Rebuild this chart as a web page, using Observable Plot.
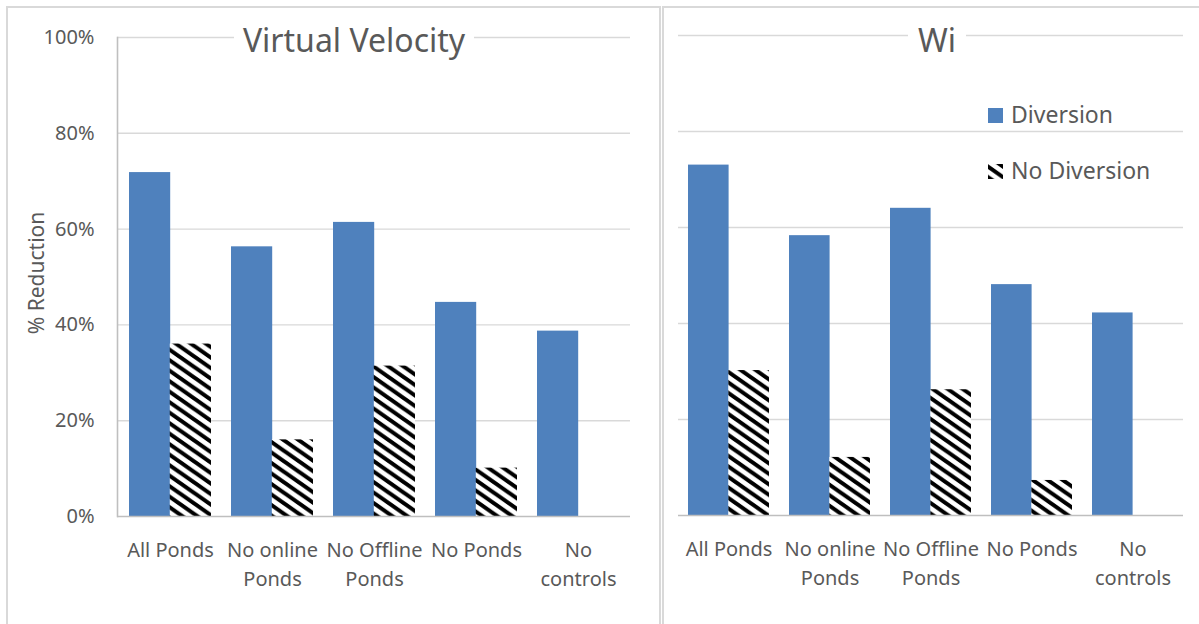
<!DOCTYPE html>
<html>
<head>
<meta charset="utf-8">
<script src="https://cdn.jsdelivr.net/npm/d3@7"></script>
<script src="https://cdn.jsdelivr.net/npm/@observablehq/plot@0.6"></script>
<style>
  html, body { margin: 0; padding: 0; background: #fff; }
  body { width: 1199px; height: 624px; position: relative; overflow: hidden; font-family: "Noto Sans", sans-serif; color: #595959; }
  .panel { position: absolute; box-sizing: border-box; border: 2px solid #d9d9d9; }
  .abs { position: absolute; left: 0; top: 0; }
  .title { position: absolute; background: #fff; font-size: 32px; line-height: 1; white-space: nowrap; text-align: center; color: #595959; }
  .ylabel { position: absolute; font-size: 21px; white-space: nowrap; transform: translate(-50%, -50%) rotate(-90deg); color: #595959; }
</style>
</head>
<body>
<svg width="0" height="0" style="position:absolute">
  <defs>
    <pattern id="hatch" patternUnits="userSpaceOnUse" width="15" height="10.5">
      <rect width="15" height="10.5" fill="#fff"></rect>
      <path d="M-15,-10.5L30,21M-15,0L15,21M0,-10.5L30,10.5" stroke="#000" stroke-width="4"></path>
    </pattern>
  </defs>
</svg>
<div class="panel" style="left:6px;top:6px;width:655px;height:640px"></div>
<div class="panel" style="left:662px;top:6px;width:600px;height:640px"></div>
<div id="left" class="abs"></div>
<div id="right" class="abs" style="left:662px"></div>
<div id="overlay"></div>
<script>
const categories = ["All Ponds", "No online Ponds", "No Offline Ponds", "No Ponds", "No controls"];
const tickLabels = ["All Ponds", "No online\nPonds", "No Offline\nPonds", "No Ponds", "No\ncontrols"];
const series = ["Diversion", "No Diversion"];
const yTicks = [0, 0.2, 0.4, 0.6, 0.8, 1.0];

const vvDiversion   = [0.718, 0.563, 0.614, 0.447, 0.387];
const vvNoDiversion = [0.360, 0.160, 0.314, 0.101, null];
const wiDiversion   = [0.730, 0.583, 0.640, 0.481, 0.422];
const wiNoDiversion = [0.302, 0.121, 0.262, 0.073, null];

const BLUE = "#4f81bd";
const GRID = "#d9d9d9";
const AXIS = "#bfbfbf";
const TEXT = "#595959";
const PAD_IN = 0.2, PAD_OUT = 0.1;

function rows(div, nodiv) {
  const out = [];
  categories.forEach((c, i) => {
    if (div[i] != null) out.push({category: c, series: series[0], value: div[i]});
    if (nodiv[i] != null) out.push({category: c, series: series[1], value: nodiv[i]});
  });
  return out;
}

function baseOptions(o) {
  return {
    width: o.width,
    height: 624,
    marginLeft: o.ml,
    marginRight: o.mr,
    marginTop: o.mt,
    marginBottom: o.mb,
    style: {background: "transparent", fontFamily: "Noto Sans, sans-serif", color: TEXT, overflow: "visible"},
    x: {domain: categories, paddingInner: PAD_IN, paddingOuter: PAD_OUT, axis: null},
    y: {domain: [0, 1], axis: null}
  };
}

function makeChart(o, data) {
  const tmp = Plot.plot({...baseOptions(o), marks: [Plot.ruleY([0])]});
  const sx = tmp.scale("x");
  let bw = sx.bandwidth;
  if (!(bw > 0)) {
    const step = sx.apply(categories[1]) - sx.apply(categories[0]);
    bw = step * (1 - PAD_IN);
  }
  if (!(bw > 0)) {
    const W = o.width - o.ml - o.mr;
    bw = W / (categories.length - PAD_IN + 2 * PAD_OUT) * (1 - PAD_IN);
  }
  const half = bw / 2;
  const marks = [
    Plot.ruleY(yTicks.filter(d => d > 0), {stroke: GRID, strokeWidth: 1.4}),
    Plot.barY(data.filter(d => d.series === series[0]), {x: "category", y: "value", fill: BLUE, insetRight: half}),
    Plot.barY(data.filter(d => d.series === series[1]), {x: "category", y: "value", fill: "url(#hatch)", insetLeft: half}),
    Plot.ruleY([0], {stroke: AXIS, strokeWidth: 1.6}),
    Plot.axisX({
      tickSize: 0, tickPadding: 20, fontSize: 20, lineHeight: 1.45, fill: TEXT, label: null,
      tickFormat: d => tickLabels[categories.indexOf(d)]
    })
  ];
  if (o.yaxis) {
    marks.push(Plot.frame({anchor: "left", stroke: AXIS, strokeWidth: 1.6}));
    marks.push(Plot.axisY({ticks: yTicks, tickFormat: d3.format(".0%"), tickSize: 0, tickPadding: 23, fontSize: 20, fill: TEXT, label: null}));
  }
  return Plot.plot({...baseOptions(o), marks});
}

document.getElementById("left").append(
  makeChart({width: 661, ml: 117, mr: 31, mt: 37, mb: 108, yaxis: true}, rows(vvDiversion, vvNoDiversion))
);
document.getElementById("right").append(
  makeChart({width: 537, ml: 16, mr: 16, mt: 35, mb: 109, yaxis: false}, rows(wiDiversion, wiNoDiversion))
);

// Titles and y label
const overlay = document.getElementById("overlay");
function addTitle(text, cx, top, padL, padR) {
  const d = document.createElement("div");
  d.className = "title";
  d.textContent = text;
  d.style.top = top + "px";
  d.style.padding = `4px ${padR}px 6px ${padL}px`;
  overlay.append(d);
  const w = d.getBoundingClientRect().width;
  d.style.left = (cx - w / 2) + "px";
}
addTitle("Virtual Velocity", 354, 20, 9, 9);
addTitle("Wi", 937, 20, 10, 10);

const yl = document.createElement("div");
yl.className = "ylabel";
yl.textContent = "% Reduction";
yl.style.left = "36px";
yl.style.top = "273px";
overlay.append(yl);

// Legend
const leg = d3.select(overlay).append("svg")
  .attr("width", 1199).attr("height", 624)
  .style("position", "absolute").style("left", 0).style("top", 0).style("pointer-events", "none");
const fills = [BLUE, "url(#hatch)"];
const legY = [123, 179];
series.forEach((s, i) => {
  leg.append("rect").attr("x", 988).attr("y", legY[i] - 15).attr("width", 15).attr("height", 15).attr("fill", fills[i]);
  leg.append("text").attr("x", 1011).attr("y", legY[i]).attr("font-size", 23)
    .attr("font-family", "Noto Sans, sans-serif").attr("fill", TEXT).text(s);
});
</script>
</body>
</html>
